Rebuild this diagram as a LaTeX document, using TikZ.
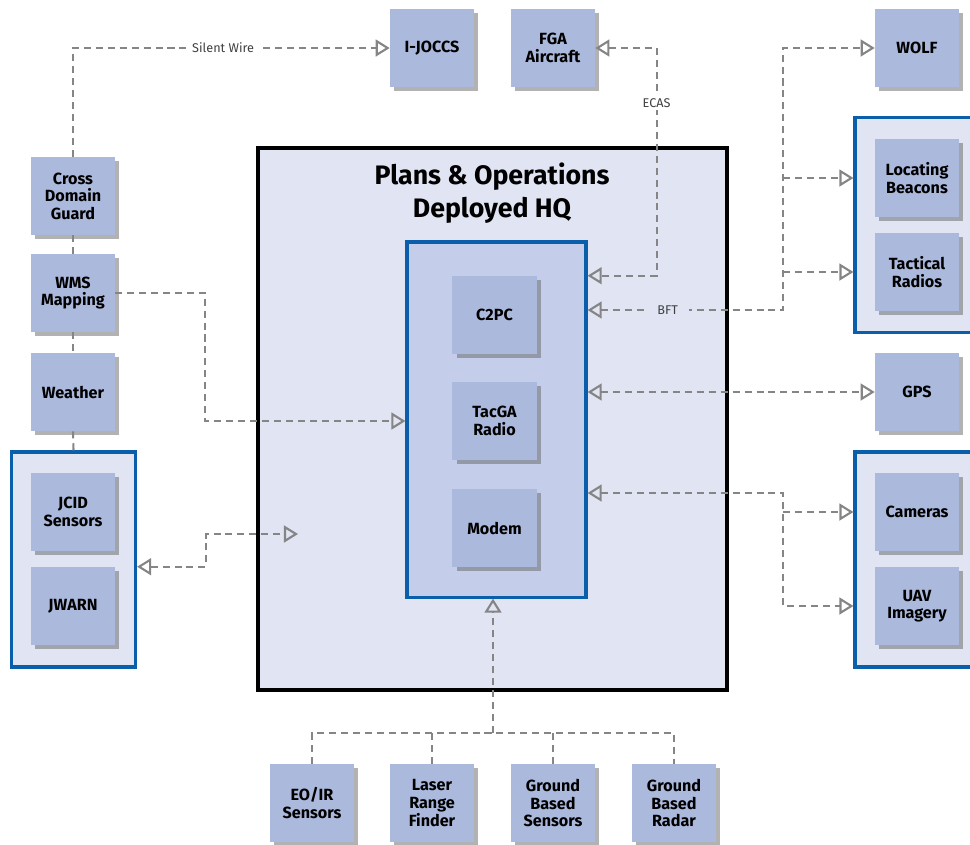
\documentclass[tikz,border=0pt]{standalone}
\usepackage{fontspec}
\setmainfont{Fira Sans}
\usetikzlibrary{arrows.meta,calc,positioning,shadows}
\definecolor{boxblue}{HTML}{AAB9DC}
\definecolor{hqfill}{HTML}{E0E4F3}
\definecolor{innerfill}{HTML}{C4CEEA}
\definecolor{edgeblue}{HTML}{0B5EAA}
\definecolor{linkgray}{HTML}{858585}

\begin{document}
\begin{tikzpicture}[x=0.025cm,y=-0.025cm,>={Triangle[open,length=10pt,width=12pt]},
    unit/.style={fill=boxblue,minimum width=2.1cm,minimum height=1.95cm,align=center,inner sep=1pt,
        font=\fontsize{11.5}{12.5}\selectfont\bfseries,
        drop shadow={shadow xshift=3pt,shadow yshift=-3pt,fill=black!60,opacity=.5}},
    grp/.style={fill=hqfill,draw=edgeblue,line width=2.2pt,minimum width=3.1cm,minimum height=5.375cm},
    link/.style={draw=linkgray,line width=1.5pt,dash pattern=on 5pt off 3.5pt},
    lab/.style={fill=white,text=black!75,font=\fontsize{9}{10}\selectfont,inner xsep=4pt,inner ysep=2pt}]
                    \useasboundingbox (0,0) rectangle (970,844);
                    % deployed HQ
                    \node[fill=hqfill,draw=black,line width=2.8pt,minimum width=11.725cm,minimum height=13.55cm] (hq) at (492.5,419) {};
                    \node[font=\fontsize{19}{24}\selectfont\bfseries,align=center] (hqtitle) at (492,193) {Plans \& Operations\\Deployed HQ};
                    \node[fill=innerfill,draw=edgeblue,line width=2.2pt,minimum width=4.475cm,minimum height=8.875cm] (inner) at (496.5,419.5) {};
                    \node[unit] (c2pc) at (494.5,315) {C2PC};
                    \node[unit] (tacga) at (494.5,421) {TacGA\\Radio};
                    \node[unit] (modem) at (494.5,528) {Modem};
                    % groups
                    \node[grp] (jcidgrp) at (73.5,559.5) {};
                    \node[grp] (navgrp) at (917,225) {};
                    \node[grp] (imggrp) at (917,559.5) {};
                    % top row
                    \node[unit] (ijoccs) at (432,48) {I-JOCCS};
                    \node[unit] (fga) at (553,48) {FGA\\Aircraft};
                    \node[unit] (wolf) at (917,48) {WOLF};
                    % left column
                    \foreach \n/\y/\t in {cdg/196/{Cross\\Domain\\Guard},wms/293/{WMS\\Mapping},weather/392/Weather,jcid/512/{JCID\\Sensors},jwarn/606/JWARN}
                    \node[unit] (\n) at (73,\y) {\t};
                    % right column
                    \foreach \n/\y/\t in {beacons/178/{Locating\\Beacons},radios/272/{Tactical\\Radios},gps/392/GPS,cams/512/Cameras,uav/606/{UAV\\Imagery}}
                    \node[unit] (\n) at (917,\y) {\t};
                    % bottom row
                    \foreach \n/\x/\t in {eoir/312/{EO/IR\\Sensors},laser/432/{Laser\\Range\\Finder},gbs/553/{Ground\\Based\\Sensors},gbr/674/{Ground\\Based\\Radar}}
                    \node[unit] (\n) at (\x,803) {\t};
                    % helper coordinates
                    \coordinate (hqin) at (298,534);
                    \coordinate (bftrow) at (0,310);
                    \coordinate (camrow) at (0,493);
                    \coordinate (rbus) at (783,0);
                    \coordinate (sbus) at (493,733);
                    % links
                    \draw[link,->] (cdg.north) |- node[lab,pos=.737]{Silent Wire} (ijoccs.west);
                    \draw[link] (cdg.south) -- (wms.north);
                    \draw[link] (wms.south) -- (weather.north);
                    \draw[link] (weather.south) -- (jcidgrp.north);
                    \draw[link,->] (wms.east) -- ++(90,0) |- (tacga -| inner.west);
                    \draw[link,<->] (jcidgrp.east |- jwarn.north) -- ++(69,0) |- (hqin);
                    \draw[link,<->] (fga.east) -| node[lab,pos=.62]{ECAS} ($(inner.east |- c2pc.north)+(69,0)$) -- (inner.east |- c2pc.north);
                    \draw[link,<->] (inner.east |- bftrow) -- node[lab,fill=hqfill,inner xsep=8pt,pos=.41]{BFT} (rbus |- bftrow) |- (wolf.west);
                    \draw[link,->] (rbus |- beacons) -- (navgrp.west |- beacons);
                    \draw[link,->] (rbus |- radios) -- (navgrp.west |- radios);
                    \draw[link,<->] (inner.east |- gps) -- (gps.west);
                    \draw[link,<->] (inner.east |- camrow) -- (rbus |- camrow) |- (imggrp.west |- uav);
                    \draw[link,->] (rbus |- cams) -- (imggrp.west |- cams);
                    \draw[link,->] (sbus) -- (sbus |- inner.south);
                    \draw[link] (eoir.north) |- (sbus) -| (gbr.north);
                    \foreach \n in {laser,gbs}
                    \draw[link] (\n.north) -- (\n.north |- sbus);
                \end{tikzpicture}
\end{document}
